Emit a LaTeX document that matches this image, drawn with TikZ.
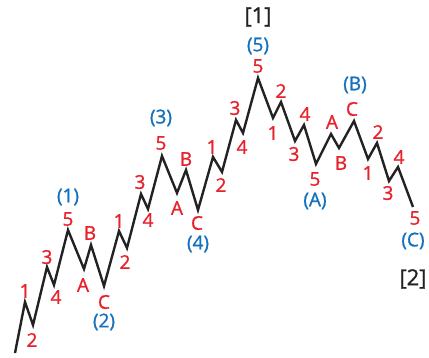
\documentclass[tikz,border=0pt]{standalone}
\usepackage{fontspec}
\setmainfont{Open Sans}
\newfontfamily\labelfont{Open Sans}[FakeBold=1.2]
\usepackage{xcolor}
\usepackage{tikz}
\usetikzlibrary{calc}
\definecolor{wavered}{HTML}{E8222C}
\definecolor{waveblue}{HTML}{1570BE}
\definecolor{waveblack}{HTML}{222222}
\tikzset{
  wave/.style={draw=waveblack, line width=2.4pt, line join=miter},
  sub/.style={text=wavered, font=\labelfont\fontsize{19}{19}\selectfont, inner sep=0pt},
  inter/.style={text=waveblue, font=\labelfont\fontsize{19}{19}\selectfont, inner sep=0pt},
  prim/.style={text=waveblack, font=\labelfont\fontsize{22}{22}\selectfont, inner sep=0pt},
}
\begin{document}
\begin{tikzpicture}[x=1pt, y=-1pt]
\useasboundingbox (0,0) rectangle (429,358);
% turning points of the wave
\coordinate (v0) at (15,353);
\coordinate (v1) at (25,302);
\coordinate (v2) at (33,325);
\coordinate (v3) at (47,267);
\coordinate (v4) at (54,285);
\coordinate (v5) at (68,230);
\coordinate (v6) at (84,269);
\coordinate (v7) at (91,245);
\coordinate (v8) at (104,286);
\coordinate (v9) at (119,231);
\coordinate (v10) at (127,248);
\coordinate (v11) at (141,194);
\coordinate (v12) at (148,209);
\coordinate (v13) at (162,156);
\coordinate (v14) at (177,193);
\coordinate (v15) at (186,170);
\coordinate (v16) at (198,210);
\coordinate (v17) at (213,157);
\coordinate (v18) at (222,172);
\coordinate (v19) at (236,120);
\coordinate (v20) at (243,133);
\coordinate (v21) at (258,78);
\coordinate (v22) at (273,118);
\coordinate (v23) at (281,102);
\coordinate (v24) at (295,141);
\coordinate (v25) at (304,125);
\coordinate (v26) at (316,164);
\coordinate (v27) at (331,134);
\coordinate (v28) at (339,148);
\coordinate (v29) at (354,121);
\coordinate (v30) at (368,159);
\coordinate (v31) at (377,143);
\coordinate (v32) at (389,181);
\coordinate (v33) at (398,167);
\coordinate (v34) at (413,207);

\draw[wave] (v0) -- (v1) -- (v2) -- (v3) -- (v4) -- (v5) -- (v6) -- (v7)
  -- (v8) -- (v9) -- (v10) -- (v11) -- (v12) -- (v13) -- (v14) -- (v15)
  -- (v16) -- (v17) -- (v18) -- (v19) -- (v20) -- (v21) -- (v22) -- (v23)
  -- (v24) -- (v25) -- (v26) -- (v27) -- (v28) -- (v29) -- (v30) -- (v31)
  -- (v32) -- (v33) -- (v34);

% wave (1)
\node[sub] (l1) at (25,291) {1};
\node[sub] (l2) at (32,340) {2};
\node[sub] (l3) at (47,257) {3};
\node[sub] (l4) at (56,297) {4};
\node[sub] (l5) at (68,219) {5};
\node[inter] (w1) at (68,197) {(1)};
% wave (2)
\node[sub] (l6) at (83,285) {A};
\node[sub] (l7) at (90,233) {B};
\node[sub] (l8) at (104,302) {C};
\node[inter] (w2) at (104,322) {(2)};
% wave (3)
\node[sub] (l9) at (119,221) {1};
\node[sub] (l10) at (125,262) {2};
\node[sub] (l11) at (140,182) {3};
\node[sub] (l12) at (148,220) {4};
\node[sub] (l13) at (161,143) {5};
\node[inter] (w3) at (161,118) {(3)};
% wave (4)
\node[sub] (l14) at (177,208) {A};
\node[sub] (l15) at (186,159) {B};
\node[sub] (l16) at (197,223) {C};
\node[inter] (w4) at (198,244) {(4)};
% wave (5)
\node[sub] (l17) at (212,147) {1};
\node[sub] (l18) at (221,185) {2};
\node[sub] (l19) at (235,108) {3};
\node[sub] (l20) at (242,147) {4};
\node[sub] (l21) at (258,66) {5};
\node[inter] (w5) at (258,46) {(5)};
\node[prim] (p1) at (258,17) {[1]};
% wave (A)
\node[sub] (l22) at (273,133) {1};
\node[sub] (l23) at (281,91) {2};
\node[sub] (l24) at (294,154) {3};
\node[sub] (l25) at (305,114) {4};
\node[sub] (l26) at (315,179) {5};
\node[inter] (wa) at (315,201) {(A)};
% wave (B)
\node[sub] (l27) at (332,122) {A};
\node[sub] (l28) at (341,163) {B};
\node[sub] (l29) at (352,109) {C};
\node[inter] (wb) at (355,85) {(B)};
% wave (C)
\node[sub] (l30) at (368,173) {1};
\node[sub] (l31) at (378,132) {2};
\node[sub] (l32) at (388,193) {3};
\node[sub] (l33) at (399,157) {4};
\node[sub] (l34) at (415,218) {5};
\node[inter] (wc) at (413,241) {(C)};
\node[prim] (p2) at (413,279) {[2]};
\end{tikzpicture}
\end{document}
